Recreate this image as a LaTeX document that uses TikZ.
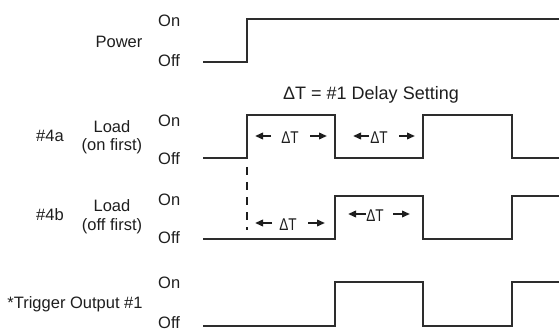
\documentclass[tikz,border=0pt]{standalone}
\usepackage{fontspec}
\setmainfont{Liberation Sans}
\usetikzlibrary{arrows.meta}
\definecolor{ink}{RGB}{30,30,30}
\definecolor{wave}{RGB}{45,45,45}
\begin{document}
\begin{tikzpicture}[x=1pt,y=-1pt,
  lbl/.style={font=\fontsize{16.5}{18}\selectfont, inner sep=0pt, anchor=base, text=ink},
  lblw/.style={lbl, anchor=base west},
  sig/.style={draw=wave, line width=1.5pt, line join=miter},
  dtarrow/.style={draw=ink, line width=1.9pt, -{Triangle[length=8pt,width=6.5pt]}},
  dtlabel/.style={font=\fontsize{17}{17}\selectfont, inner sep=0pt, anchor=base, text=ink}]
\useasboundingbox (0,0) rectangle (559,331);

% ---- labels ----
\node[lbl]  (pw)   at (119,48)  {Power};
\node[lblw] (pwon) at (158,27)  {On};
\node[lblw] (pwof) at (158,67)  {Off};

\node[lbl]  (a4)   at (50,141.5)  {\#4a};
\node[lbl]  (aL)   at (112,133)   {Load};
\node[lbl]  (aL2)  at (112,151)   {(on first)};
\node[lblw] (aon)  at (158,126.5) {On};
\node[lblw] (aof)  at (158,165)   {Off};

\node[lbl]  (b4)   at (50,220)    {\#4b};
\node[lbl]  (bL)   at (112,211.5) {Load};
\node[lbl]  (bL2)  at (112,230)   {(off first)};
\node[lblw] (bon)  at (158,205)   {On};
\node[lblw] (bof)  at (158,243)   {Off};

\node[lbl]  (tr)   at (75,308)    {*Trigger Output \#1};
\node[lblw] (ton)  at (158,288)   {On};
\node[lblw] (tof)  at (158,328.5) {Off};

\node[lbl, font=\fontsize{18}{20}\selectfont] (title) at (371,100) {ΔT = \#1 Delay Setting};

% ---- waveforms ----
\draw[sig] (203,62) -- (247,62) -- (247,19) -- (559,19);
\draw[sig] (203,158) -- (247,158) -- (247,115) -- (335,115) -- (335,158)
  -- (423,158) -- (423,115) -- (512,115) -- (512,158) -- (559,158);
\draw[sig] (203,239) -- (335,239) -- (335,196) -- (423,196) -- (423,239)
  -- (512,239) -- (512,196) -- (559,196);
\draw[sig] (203,326) -- (335,326) -- (335,282) -- (423,282) -- (423,326)
  -- (512,326) -- (512,282) -- (559,282);

% ---- dashed marker ----
\coordinate (d1) at (247,167);
\coordinate (d2) at (247,230);
\draw[draw=ink, line width=1.8pt, dash pattern=on 8pt off 7pt] (d1) -- (d2);

% ---- delta T markers ----
\coordinate (a1s) at (271,136); \coordinate (a1e) at (255,136);
\coordinate (a2s) at (310,136); \coordinate (a2e) at (327,136);
\node[dtlabel] (dta1) at (290,144) {\scalebox{0.8}[1]{ΔT}};
\draw[dtarrow] (a1s) -- (a1e);
\draw[dtarrow] (a2s) -- (a2e);

\coordinate (a3s) at (369,136); \coordinate (a3e) at (353,136);
\coordinate (a4s) at (399,136); \coordinate (a4e) at (415,136);
\node[dtlabel] (dta2) at (379,144) {\scalebox{0.8}[1]{ΔT}};
\draw[dtarrow] (a3s) -- (a3e);
\draw[dtarrow] (a4s) -- (a4e);

\coordinate (b1s) at (272,223); \coordinate (b1e) at (255,223);
\coordinate (b2s) at (308,223); \coordinate (b2e) at (325,223);
\node[dtlabel] (dtb1) at (288,230) {\scalebox{0.8}[1]{ΔT}};
\draw[dtarrow] (b1s) -- (b1e);
\draw[dtarrow] (b2s) -- (b2e);

\coordinate (b3s) at (366,214); \coordinate (b3e) at (348,214);
\coordinate (b4s) at (393,214); \coordinate (b4e) at (410,214);
\node[dtlabel] (dtb2) at (375,221) {\scalebox{0.8}[1]{ΔT}};
\draw[dtarrow] (b3s) -- (b3e);
\draw[dtarrow] (b4s) -- (b4e);
\end{tikzpicture}
\end{document}
